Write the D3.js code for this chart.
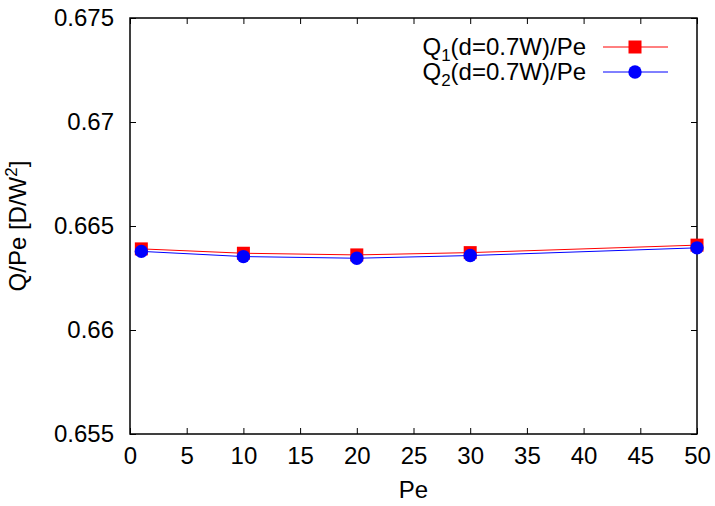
<!DOCTYPE html>
<html>
<head>
<meta charset="utf-8">
<script src="https://cdn.jsdelivr.net/npm/d3@7"></script>
<style>
  body { margin: 0; background: #fff; }
  text { font-family: "Liberation Sans", Arial, sans-serif; }
</style>
</head>
<body>
<svg id="chart" width="715" height="506"></svg>
<script>
// data
const peValues = [1, 10, 20, 30, 50];
const q1Values = [0.66390, 0.66369, 0.66361, 0.66372, 0.66408];
const q2Values = [0.66378, 0.66353, 0.66345, 0.66358, 0.66395];
const xTicks = [0, 5, 10, 15, 20, 25, 30, 35, 40, 45, 50];
const yTicks = [0.655, 0.66, 0.665, 0.67, 0.675];

const margin = { top: 18, right: 18, bottom: 72, left: 130 };
const width = 715 - margin.left - margin.right;
const height = 506 - margin.top - margin.bottom;
const fs = 24;

const svg = d3.select("#chart")
  .append("g")
  .attr("transform", `translate(${margin.left},${margin.top})`);

const x = d3.scaleLinear().domain([0, 50]).range([0, width]);
const y = d3.scaleLinear().domain([0.655, 0.675]).range([height, 0]);

const tickLen = 6;

// bottom axis
svg.append("g")
  .attr("transform", `translate(0,${height})`)
  .call(d3.axisBottom(x).tickValues(xTicks).tickSizeInner(-tickLen).tickSizeOuter(0).tickPadding(13).tickFormat(d3.format("d")));
// top mirror ticks
svg.append("g")
  .call(d3.axisTop(x).tickValues(xTicks).tickSizeInner(-tickLen).tickSizeOuter(0).tickFormat(""));

// left axis
svg.append("g")
  .call(d3.axisLeft(y).tickValues(yTicks).tickSizeInner(-tickLen).tickSizeOuter(0).tickPadding(16)
    .tickFormat(d => String(+d.toFixed(3))));
// right mirror ticks
svg.append("g")
  .attr("transform", `translate(${width},0)`)
  .call(d3.axisRight(y).tickValues(yTicks).tickSizeInner(-tickLen).tickSizeOuter(0).tickFormat(""));

svg.selectAll(".domain").remove();
svg.selectAll(".tick line").attr("stroke", "#000").attr("stroke-width", 1);
svg.selectAll(".tick text").attr("font-size", fs).attr("fill", "#000")
  .attr("font-family", "Liberation Sans, Arial, sans-serif");

// frame
svg.append("rect")
  .attr("x", 0).attr("y", 0)
  .attr("width", width).attr("height", height)
  .attr("fill", "none").attr("stroke", "#000").attr("stroke-width", 1.5);

// axis labels
svg.append("text")
  .attr("x", width / 2)
  .attr("y", height + 64)
  .attr("text-anchor", "middle")
  .attr("font-size", fs)
  .text("Pe");

const yl = svg.append("text")
  .attr("transform", `translate(${-104},${height / 2}) rotate(-90)`)
  .attr("text-anchor", "middle")
  .attr("font-size", fs);
yl.append("tspan").text("Q/Pe [D/W");
yl.append("tspan").attr("dy", -9).attr("font-size", 17).text("2");
yl.append("tspan").attr("dy", 9).text("]");

const line = d3.line().x(d => x(d[0])).y(d => y(d[1]));

const series = [
  { vals: q1Values, color: "#ff0000", shape: "square", sub: "1" },
  { vals: q2Values, color: "#0000ff", shape: "circle", sub: "2" }
];

series.forEach((s, i) => {
  const pts = peValues.map((p, j) => [p, s.vals[j]]);
  svg.append("path")
    .datum(pts)
    .attr("d", line)
    .attr("fill", "none")
    .attr("stroke", s.color)
    .attr("stroke-width", 1);

  const sym = d3.symbol().type(s.shape === "square" ? d3.symbolSquare : d3.symbolCircle)
    .size(s.shape === "square" ? 169 : 140);
  svg.selectAll(".pt" + i)
    .data(pts)
    .enter().append("path")
    .attr("transform", d => `translate(${x(d[0])},${y(d[1])})`)
    .attr("d", sym)
    .attr("fill", s.color);

  // legend
  const ly = 29 + i * 25;
  const lg = svg.append("text")
    .attr("x", 456)
    .attr("y", ly + 8)
    .attr("text-anchor", "end")
    .attr("font-size", fs);
  lg.append("tspan").text("Q");
  lg.append("tspan").attr("dy", 6).attr("font-size", 17).text(s.sub);
  lg.append("tspan").attr("dy", -6).text("(d=0.7W)/Pe");

  svg.append("line")
    .attr("x1", 473).attr("x2", 538)
    .attr("y1", ly).attr("y2", ly)
    .attr("stroke", s.color).attr("stroke-width", 1);
  svg.append("path")
    .attr("transform", `translate(505,${ly})`)
    .attr("d", sym)
    .attr("fill", s.color);
});
</script>
</body>
</html>
